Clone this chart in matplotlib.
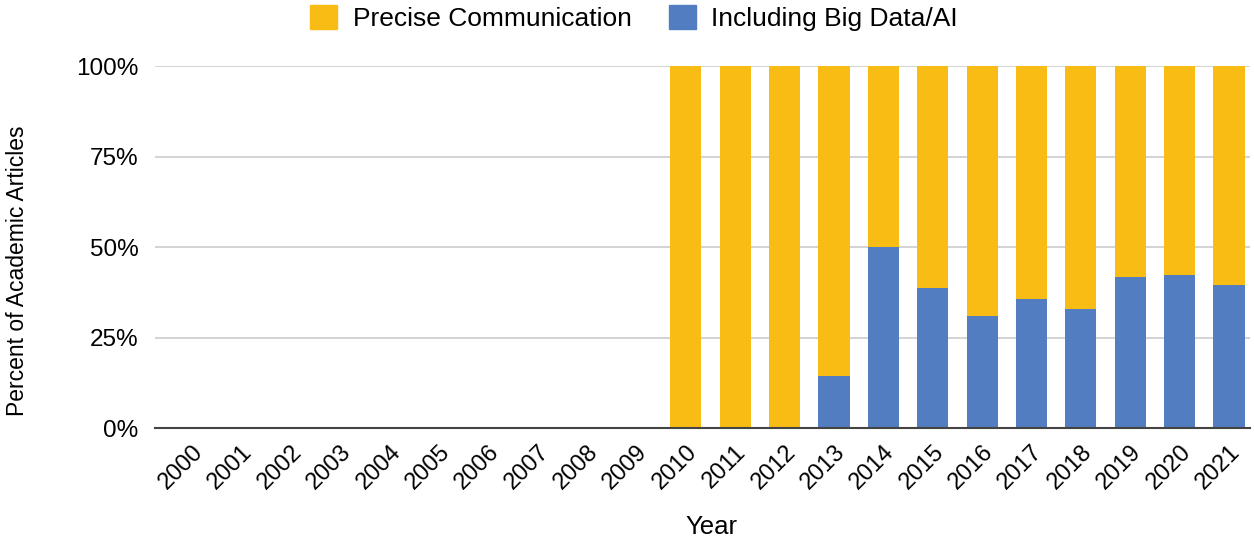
import matplotlib
matplotlib.use('Agg')
from matplotlib import pyplot as plt
from matplotlib.ticker import PercentFormatter
from matplotlib.patches import Patch
import numpy as np

plt.rcParams['font.family'] = ['Liberation Sans', 'DejaVu Sans']

years = [str(y) for y in range(2000, 2022)]
# доля статей (%), 2000-2009 нет данных
big_data = [0, 0, 0, 0, 0, 0, 0, 0, 0, 0,
            0, 0, 0, 14.3, 50.0, 38.7, 30.9, 35.6, 32.9, 41.7, 42.3, 39.5]
has_data = [0] * 10 + [1] * 12
precise = [100 - b if h else 0 for b, h in zip(big_data, has_data)]

yellow = '#F9BC15'
blue = '#527DC0'

fig = plt.figure(figsize=(12.54, 5.42), dpi=100)
ax = fig.add_axes([0.1236, 0.21, 0.873, 0.668])

x = np.arange(len(years))
ax.bar(x, big_data, width=0.63, color=blue, zorder=3)
ax.bar(x, precise, bottom=big_data, width=0.63, color=yellow, zorder=3)

ax.set_xlim(-0.75, 21.42)
ax.set_ylim(0, 100)
ax.set_yticks([0, 25, 50, 75, 100])
ax.yaxis.set_major_formatter(PercentFormatter(decimals=0))
ax.grid(axis='y', color='#cccccc', linewidth=1.2, zorder=0)
ax.set_xticks(x)
ax.set_xticklabels(years, rotation=45, ha='right', va='top', rotation_mode='anchor', fontsize=17)
ax.tick_params(axis='both', length=0)
ax.tick_params(axis='y', labelsize=17.5, pad=12)
ax.tick_params(axis='x', pad=9)
for s in ['top', 'right', 'left']:
    ax.spines[s].set_visible(False)
ax.spines['bottom'].set_color('#444444')
ax.spines['bottom'].set_linewidth(1.5)
ax.spines['bottom'].set_zorder(4)

fig.text(0.567, 1 - 527 / 542, 'Year', fontsize=18.5, ha='center', va='center')
fig.text(0.0136, 0.5, 'Percent of Academic Articles', rotation=90, va='center', ha='center', fontsize=16.5)

handles = [Patch(color=yellow, label='Precise Communication'),
           Patch(color=blue, label='Including Big Data/AI')]
fig.legend(handles=handles, loc='center', bbox_to_anchor=(0.5056, 0.966), ncol=2, frameon=False,
           fontsize=19, handlelength=1.02, handleheight=1.02, handletextpad=0.6, columnspacing=1.4)

fig.savefig('out.png', dpi=100)
